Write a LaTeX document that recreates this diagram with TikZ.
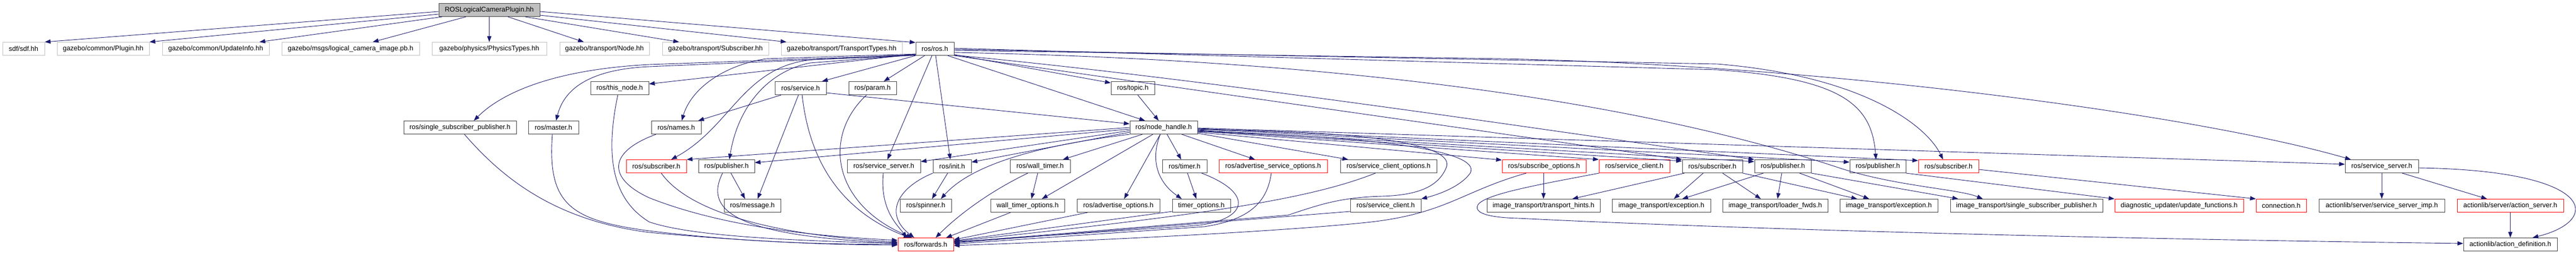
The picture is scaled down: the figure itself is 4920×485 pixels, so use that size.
\documentclass[tikz,border=0pt]{standalone}
\usepackage{fontspec}
\setmainfont{Liberation Sans}
\usetikzlibrary{arrows.meta}
\definecolor{edgec}{RGB}{25,25,112}
\definecolor{extb}{RGB}{191,191,191}
\definecolor{nodeb}{RGB}{64,64,64}
\definecolor{truncb}{RGB}{255,0,0}
\begin{document}
\begin{tikzpicture}[x=1pt,y=-1pt,
  base/.style={rectangle, inner sep=0pt, minimum height=25pt, line width=1pt, font=\fontsize{13}{13}\selectfont, text=black},
  blk/.style={base, draw=nodeb},
  ext/.style={base, draw=extb},
  trunc/.style={base, draw=truncb},
  rootn/.style={base, draw=nodeb, fill=extb},
  e/.style={draw=edgec, line width=0.9pt, -{Triangle[length=11pt,width=8pt]}}]
\useasboundingbox[fill=white] (0,0) rectangle (4920,485);
% row 0
\node[rootn, minimum width=193pt] (root) at (934.5,19) {ROSLogicalCameraPlugin.hh};
% row 1
\node[ext, minimum width=80pt] (sdf) at (45,93) {sdf/sdf.hh};
\node[ext, minimum width=176pt] (plugin) at (197,93) {gazebo/common/Plugin.hh};
\node[ext, minimum width=204pt] (update) at (412,93) {gazebo/common/UpdateInfo.hh};
\node[ext, minimum width=263pt] (lci) at (669.5,93) {gazebo/msgs/logical\_camera\_image.pb.h};
\node[ext, minimum width=219pt] (phys) at (934.5,93) {gazebo/physics/PhysicsTypes.hh};
\node[ext, minimum width=171pt] (gnode) at (1154.5,93) {gazebo/transport/Node.hh};
\node[ext, minimum width=203pt] (gsub) at (1366.5,93) {gazebo/transport/Subscriber.hh};
\node[ext, minimum width=231pt] (gtt) at (1607.5,93) {gazebo/transport/TransportTypes.hh};
\node[blk, minimum width=73pt] (ros) at (1785.5,93) {ros/ros.h};
% row 2
\node[blk, minimum width=111pt] (thisnode) at (1183.5,168) {ros/this\_node.h};
\node[blk, minimum width=98pt] (service) at (1529,168) {ros/service.h};
\node[blk, minimum width=91pt] (param) at (1666.5,168) {ros/param.h};
\node[blk, minimum width=83pt] (topic) at (2163.5,168) {ros/topic.h};
% row 3
\node[blk, minimum width=215pt] (ssp) at (878.5,243) {ros/single\_subscriber\_publisher.h};
\node[blk, minimum width=96pt] (master) at (1057,243) {ros/master.h};
\node[blk, minimum width=95pt] (names) at (1291.5,243) {ros/names.h};
\node[blk, minimum width=129pt] (nh) at (2222.5,243) {ros/node\_handle.h};
% row 4
\node[trunc, minimum width=115pt] (subA) at (1253.5,317) {ros/subscriber.h};
\node[blk, minimum width=107pt] (pubA) at (1387.5,317) {ros/publisher.h};
\node[blk, minimum width=140pt] (ssA) at (1688,317) {ros/service\_server.h};
\node[blk, minimum width=73pt] (init) at (1818.5,317) {ros/init.h};
\node[blk, minimum width=115pt] (walltimer) at (1986.5,317) {ros/wall\_timer.h};
\node[blk, minimum width=85pt] (timer) at (2262.5,317) {ros/timer.h};
\node[trunc, minimum width=207pt] (aso) at (2431.5,317) {ros/advertise\_service\_options.h};
\node[blk, minimum width=184pt] (sco) at (2652,317) {ros/service\_client\_options.h};
\node[trunc, minimum width=160pt] (subopt) at (2949,317) {ros/subscribe\_options.h};
\node[trunc, minimum width=135pt] (scA) at (3121.5,317) {ros/service\_client.h};
\node[blk, minimum width=115pt] (subB) at (3270.5,317) {ros/subscriber.h};
\node[blk, minimum width=108pt] (pubB) at (3405,317) {ros/publisher.h};
\node[blk, minimum width=107pt] (pubC) at (3586.5,317) {ros/publisher.h};
\node[trunc, minimum width=115pt] (subC) at (3721.5,317) {ros/subscriber.h};
\node[blk, minimum width=140pt] (ssB) at (4549,317) {ros/service\_server.h};
% row 5
\node[blk, minimum width=108pt] (message) at (1437,392) {ros/message.h};
\node[blk, minimum width=98pt] (spinner) at (1768,392) {ros/spinner.h};
\node[blk, minimum width=141pt] (wto) at (1962.5,392) {wall\_timer\_options.h};
\node[blk, minimum width=158pt] (ao) at (2136,392) {ros/advertise\_options.h};
\node[blk, minimum width=111pt] (to) at (2294.5,392) {timer\_options.h};
\node[blk, minimum width=135pt] (scB) at (2646.5,392) {ros/service\_client.h};
\node[blk, minimum width=216pt] (th) at (2948,392) {image\_transport/transport\_hints.h};
\node[blk, minimum width=188pt] (excA) at (3173,392) {image\_transport/exception.h};
\node[blk, minimum width=201pt] (lf) at (3390.5,392) {image\_transport/loader\_fwds.h};
\node[blk, minimum width=187pt] (excB) at (3607.5,392) {image\_transport/exception.h};
\node[blk, minimum width=291pt] (itssp) at (3870.5,392) {image\_transport/single\_subscriber\_publisher.h};
\node[trunc, minimum width=246pt] (duf) at (4162,392) {diagnostic\_updater/update\_functions.h};
\node[trunc, minimum width=96pt] (conn) at (4357,392) {connection.h};
\node[blk, minimum width=240pt] (ssi) at (4549,392) {actionlib/server/service\_server\_imp.h};
\node[trunc, minimum width=203pt] (as) at (4794.5,392) {actionlib/server/action\_server.h};
% row 6
\node[trunc, minimum width=106pt] (fwd) at (1768,466) {ros/forwards.h};
\node[blk, minimum width=179pt] (ad) at (4794.5,466) {actionlib/action\_definition.h};

% ---- edges from root
\draw[e] ([yshift=-3pt]root.west) -- (sdf.north east);
\draw[e] ([yshift=-8pt]root.west) -- (plugin.north east);
\draw[e] ([xshift=7pt]root.south west) -- ([xshift=-19pt]update.north east);
\draw[e] ([xshift=-44.5pt]root.south) -- ([xshift=42.5pt]lci.north);
\draw[e] (root.south) -- (phys.north);
\draw[e] ([xshift=35.5pt]root.south) -- ([xshift=-39.5pt]gnode.north);
\draw[e] ([xshift=68.5pt]root.south) -- ([xshift=-69.5pt]gsub.north);
\draw[e] ([yshift=-10pt]root.east) -- ([xshift=-105.5pt]gtt.north);
\draw[e] ([yshift=-3pt]root.east) -- ([yshift=-1pt]ros.north west);

% ---- edges from ros/ros.h
\draw[e] ([yshift=-10pt]ros.west) -- ([yshift=8pt]thisnode.east);
\draw[e] (ros.south west) -- ([xshift=41pt]service.north);
\draw[e] ([xshift=-19.5pt]ros.south) -- ([xshift=21.5pt]param.north);
\draw[e] ([yshift=-11pt]ros.east) -- ([yshift=10pt]topic.west);
\draw[e] ([xshift=24.5pt]ros.south) -- ([xshift=-35.5pt]nh.north);
\draw[e] ([yshift=-12pt]ros.west) -- (1240,123) .. controls (1050,133) and (955,180) .. ([xshift=26.5pt]ssp.north);
\draw[e] ([yshift=-12.5pt]ros.west) -- (1240,127) .. controls (1110,133) and (1075,180) .. ([xshift=5pt]master.north);
\draw[e] ([yshift=-10pt]ros.west) -- (1463,112) .. controls (1380,125) and (1320,170) .. ([xshift=10.5pt]names.north);
\draw[e] ([yshift=-11pt]ros.west) -- (1563,113) .. controls (1420,120) and (1400,240) .. ([xshift=28.5pt]subA.north);
\draw[e] ([yshift=-11.5pt]ros.west) -- (1547,120) .. controls (1470,135) and (1410,200) .. ([xshift=5.5pt]pubA.north);
\draw[e] ([xshift=-5.5pt]ros.south) -- ([xshift=7pt]ssA.north);
\draw[e] ([xshift=1.5pt]ros.south) -- ([xshift=-3.5pt]init.north);
\draw[e] ([yshift=1pt]ros.east) -- (3280,133) .. controls (3520,150) and (3575,200) .. ([xshift=-3.5pt]pubC.north);
\draw[e] ([yshift=-1pt]ros.east) -- (3280,122) .. controls (3560,145) and (3680,240) .. ([xshift=-10.5pt]subC.north);
\draw[e] ([yshift=-3pt]ros.east) -- (2870,112) .. controls (3500,125) and (4200,220) .. ([xshift=-59pt]ssB.north);
\draw[e] ([yshift=-7pt]ros.east) .. controls (2600,115) and (3150,200) .. (3513,320) .. controls (3620,355) and (3740,360) .. ([xshift=-83.5pt]itssp.north);
\draw[e] ([yshift=-13pt]ros.east) -- (subB.north west);
\draw[e] ([yshift=-12pt]ros.east) .. controls (2300,150) and (2900,240) .. (pubB.north west);

% ---- edges from ros/node_handle.h
\draw[e] (nh.west) -- (subA.north east);
\draw[e] ([yshift=-3pt]nh.west) -- ([yshift=7pt]pubA.east);
\draw[e] ([yshift=-6pt]nh.west) -- ([yshift=9pt]ssA.east);
\draw[e] ([yshift=-9pt]nh.west) -- ([yshift=8pt]init.east);
\draw[e] (nh.south west) .. controls (1960,280) and (1850,320) .. ([xshift=29pt]spinner.north);
\draw[e] ([xshift=-40.5pt]nh.south) -- ([xshift=43.5pt]walltimer.north);
\draw[e] ([xshift=-20.5pt]nh.south) -- ([xshift=27.5pt]wto.north);
\draw[e] ([xshift=-6.5pt]nh.south) -- ([xshift=11pt]ao.north);
\draw[e] ([xshift=-6.5pt]nh.south) .. controls (2195,310) and (2215,350) .. ([xshift=-37.5pt]to.north);
\draw[e] ([xshift=6.5pt]nh.south) -- ([xshift=-6.5pt]timer.north);
\draw[e] ([xshift=34.5pt]nh.south) -- ([xshift=-34.5pt]aso.north);
\draw[e] ([yshift=-11pt]nh.east) -- ([xshift=-77pt]sco.north);
\draw[e] ([yshift=-9pt]nh.east) -- ([yshift=-1pt]subopt.north west);
\draw[e] ([yshift=-7pt]nh.east) -- (scA.north west);
\draw[e] ([yshift=-6pt]nh.east) -- ([yshift=10pt]subB.west);
\draw[e] ([yshift=-5pt]nh.east) -- ([yshift=9pt]pubB.west);
\draw[e] ([yshift=-3pt]nh.east) -- ([yshift=8pt]pubC.west);
\draw[e] ([yshift=-2pt]nh.east) -- ([yshift=11pt]subC.west);
\draw[e] ([yshift=-1pt]nh.east) -- ([yshift=4pt]ssB.west);
\draw[e] ([yshift=-8pt]nh.east) .. controls (2650,260) and (2830,290) .. (2808,330) .. controls (2790,355) and (2750,370) .. (scB.north east);
\draw[e] ([yshift=-4pt]nh.east) .. controls (2650,250) and (2780,280) .. (2762,320) .. controls (2745,360) and (2700,372) .. (2640,374) .. controls (2560,376) and (2520,390) .. (2460,410) -- ([yshift=4pt]fwd.east);

% ---- other edges
\draw[e] ([xshift=-37pt]service.south) -- ([xshift=-6pt]names.north east);
\draw[e] ([xshift=-4pt]service.south) -- ([xshift=10pt]message.north);
\draw[e] ([xshift=3pt]service.south) .. controls (1545,300) and (1600,400) .. ([xshift=-31pt]fwd.north);
\draw[e] ([yshift=-9pt]service.east) -- ([yshift=7pt]nh.west);
\draw[e] ([xshift=-11.5pt]param.south) .. controls (1570,260) and (1590,390) .. ([xshift=-26pt]fwd.north);
\draw[e] ([xshift=9.5pt]topic.south) -- ([xshift=-9.5pt]nh.north);
\draw[e] ([xshift=-3.5pt]thisnode.south) .. controls (1155,300) and (1170,380) .. (1240,423) .. controls (1320,450) and (1500,458) .. ([yshift=2pt]fwd.west);
\draw[e] ([xshift=-2pt]master.south) .. controls (1045,390) and (1090,420) .. (1240,440) .. controls (1450,465) and (1600,465) .. (fwd.west);
\draw[e] ([xshift=8.5pt]ssp.south) .. controls (960,340) and (1060,420) .. (1240,443) .. controls (1450,462) and (1600,467) .. ([yshift=-1pt]fwd.west);
\draw[e] ([xshift=-38.5pt]names.south) .. controls (1160,290) and (1160,340) .. (1240,377) .. controls (1400,440) and (1600,452) .. ([yshift=8pt]fwd.west);
\draw[e] ([xshift=9.5pt]subA.south) .. controls (1320,410) and (1500,450) .. ([yshift=5pt]fwd.west);
\draw[e] ([xshift=-7.5pt]pubA.south) .. controls (1345,400) and (1400,450) .. ([yshift=3pt]fwd.west);
\draw[e] ([xshift=8.5pt]pubA.south) -- ([xshift=-14pt]message.north);
\draw[e] ([xshift=-1pt]ssA.south) .. controls (1680,400) and (1715,430) .. ([xshift=-36pt]fwd.north);
\draw[e] (init.south west) .. controls (1710,360) and (1690,410) .. ([xshift=-22pt]fwd.north);
\draw[e] ([xshift=-8.5pt]init.south) -- ([xshift=12pt]spinner.north);
\draw[e] ([xshift=-4.5pt]walltimer.south) -- ([xshift=7.5pt]wto.north);
\draw[e] ([xshift=-23.5pt]walltimer.south) .. controls (1890,365) and (1830,410) .. ([xshift=19pt]fwd.north);
\draw[e] ([xshift=-32.5pt]wto.south) -- ([xshift=39pt]fwd.north);
\draw[e] ([xshift=-59pt]ao.south) -- ([yshift=9pt]fwd.east);
\draw[e] ([yshift=-11pt]to.west) -- ([yshift=7pt]fwd.east);
\draw[e] ([xshift=5.5pt]timer.south) -- ([xshift=-9.5pt]to.north);
\draw[e] ([xshift=32.5pt]timer.south) .. controls (2400,370) and (2380,420) .. (2283,430) -- ([yshift=5pt]fwd.east);
\draw[e] ([xshift=-3.5pt]aso.south) .. controls (2420,390) and (2380,420) .. (2300,432) -- ([yshift=1pt]fwd.east);
\draw[e] ([xshift=-25pt]sco.south) .. controls (2500,380) and (2300,410) .. ([yshift=6pt]fwd.east);
\draw[e] ([yshift=-11pt]scB.west) -- ([yshift=3pt]fwd.east);
\draw[e] ([xshift=-34pt]subopt.south) .. controls (2790,365) and (2760,410) .. (2600,425) .. controls (2400,445) and (2000,462) .. ([yshift=-2pt]fwd.east);
\draw[e] ([xshift=-1pt]subopt.south) -- (th.north);
\draw[e] ([xshift=-67.5pt]scA.south) .. controls (2950,350) and (2830,370) .. (2822,392) .. controls (2815,410) and (2860,415) .. (2900,416) .. controls (3300,436) and (4000,455) .. ([yshift=2pt]ad.west);
\draw[e] ([xshift=-53.5pt]subB.south) -- ([xshift=55pt]th.north);
\draw[e] ([xshift=-17.5pt]subB.south) -- ([xshift=24pt]excA.north);
\draw[e] ([xshift=19.5pt]subB.south) -- ([xshift=-27.5pt]lf.north);
\draw[e] (subB.south east) -- ([xshift=-60.5pt]excB.north);
\draw[e] ([xshift=-37pt]pubB.south) -- ([xshift=40pt]excA.north);
\draw[e] ([xshift=-2pt]pubB.south) -- ([xshift=4.5pt]lf.north);
\draw[e] ([xshift=32pt]pubB.south) -- ([xshift=-37.5pt]excB.north);
\draw[e] (pubB.south east) -- ([xshift=-130.5pt]itssp.north);
\draw[e] (pubC.south east) -- (duf.north west);
\draw[e] ([yshift=-6pt]subC.east) -- (conn.north west);
\draw[e] (ssB.south) -- (ssi.north);
\draw[e] ([xshift=39pt]ssB.south) -- ([xshift=-44.5pt]as.north);
\draw[e] ([yshift=-3pt]ssB.east) .. controls (4960,325) and (4970,420) .. ([xshift=42.5pt]ad.north);
\draw[e] (as.south) -- (ad.north);
\end{tikzpicture}
\end{document}
